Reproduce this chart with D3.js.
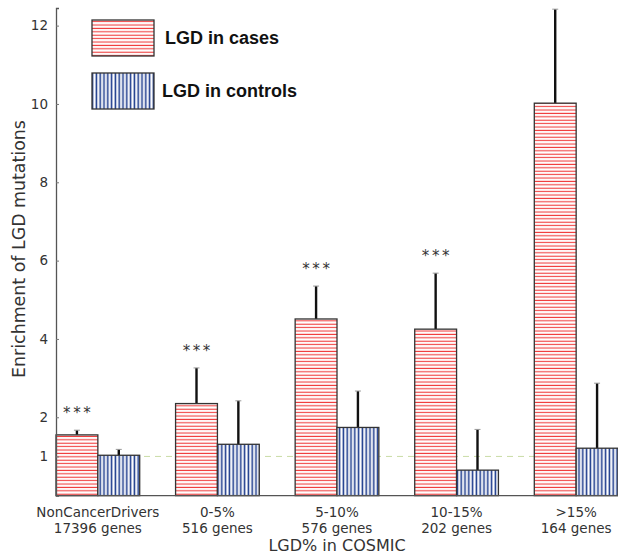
<!DOCTYPE html>
<html>
<head>
<meta charset="utf-8">
<script src="https://cdn.jsdelivr.net/npm/d3@7/dist/d3.min.js"></script>
<style>
  html, body { margin: 0; padding: 0; background: #fff; }
  svg { display: block; }
</style>
</head>
<body>
<div id="chart"></div>
<script>
// LGD enrichment in cases vs controls, by COSMIC LGD% bin
const categories = ['NonCancerDrivers', '0-5%', '5-10%', '10-15%', '>15%'];
const geneCounts = ['17396 genes', '516 genes', '576 genes', '202 genes', '164 genes'];
const casesValues = [1.55, 2.35, 4.51, 4.25, 10.02];
const casesErrors = [0.12, 0.91, 0.84, 1.43, 2.40];
const controlsValues = [1.03, 1.31, 1.74, 0.65, 1.21];
const controlsErrors = [0.15, 1.11, 0.93, 1.04, 1.66];
const significance = ['***', '***', '***', '***', ''];
const yTicks = [1, 2, 4, 6, 8, 10, 12];
const legendLabels = ['LGD in cases', 'LGD in controls'];

(function () {
  const W = 618, H = 555;
  const barW = 0.35;

  const svg = d3.select('#chart').append('svg')
    .attr('width', W)
    .attr('height', H)
    .attr('viewBox', `0 0 ${W} ${H}`);

  const defs = svg.append('defs');
  const redPat = defs.append('pattern')
    .attr('id', 'hatchRed')
    .attr('patternUnits', 'userSpaceOnUse')
    .attr('width', 8)
    .attr('height', 3.4);
  redPat.append('rect').attr('width', 8).attr('height', 3.4).attr('fill', '#fff');
  redPat.append('line')
    .attr('x1', 0).attr('x2', 8).attr('y1', 1.2).attr('y2', 1.2)
    .attr('stroke', '#f03a3a').attr('stroke-width', 1.1);

  const bluePat = defs.append('pattern')
    .attr('id', 'hatchBlue')
    .attr('patternUnits', 'userSpaceOnUse')
    .attr('width', 3.8)
    .attr('height', 8);
  bluePat.append('rect').attr('width', 3.8).attr('height', 8).attr('fill', '#fff');
  bluePat.append('line')
    .attr('x1', 1.4).attr('x2', 1.4).attr('y1', 0).attr('y2', 8)
    .attr('stroke', '#1c3b8c').attr('stroke-width', 1.6);

  const x = d3.scaleLinear().domain([-barW, categories.length - 1 + barW]).range([56, 618]);
  const y = d3.scaleLinear().domain([0, 12.45]).range([495.6, 8]);

  // reference line at 1
  svg.append('line')
    .attr('x1', x.range()[0]).attr('x2', x.range()[1])
    .attr('y1', y(1)).attr('y2', y(1))
    .attr('stroke', '#c9dca6')
    .attr('stroke-width', 1)
    .attr('stroke-dasharray', '6,5');

  const rows = categories.map((c, i) => ({
    i,
    cases: casesValues[i], casesErr: casesErrors[i],
    controls: controlsValues[i], controlsErr: controlsErrors[i],
    sig: significance[i]
  }));

  // error bars (upper only), drawn behind bars
  const errs = [];
  rows.forEach(d => {
    errs.push({ cx: x(d.i - barW / 2), v: d.cases, e: d.casesErr });
    errs.push({ cx: x(d.i + barW / 2), v: d.controls, e: d.controlsErr });
  });
  svg.selectAll('.err')
    .data(errs)
    .join('line')
    .attr('class', 'err')
    .attr('x1', d => d.cx).attr('x2', d => d.cx)
    .attr('y1', d => y(d.v)).attr('y2', d => y(d.v + d.e))
    .attr('stroke', '#111')
    .attr('stroke-width', 2.4);
  svg.selectAll('.cap')
    .data(errs)
    .join('line')
    .attr('class', 'cap')
    .attr('x1', d => d.cx - 3).attr('x2', d => d.cx + 3)
    .attr('y1', d => y(d.v + d.e)).attr('y2', d => y(d.v + d.e))
    .attr('stroke', '#999')
    .attr('stroke-width', 1);

  svg.selectAll('.bar-cases')
    .data(rows)
    .join('rect')
    .attr('class', 'bar-cases')
    .attr('x', d => x(d.i - barW))
    .attr('y', d => y(d.cases))
    .attr('width', x(barW) - x(0))
    .attr('height', d => y(0) - y(d.cases))
    .attr('fill', 'url(#hatchRed)')
    .attr('stroke', '#333')
    .attr('stroke-width', 1.3);

  svg.selectAll('.bar-controls')
    .data(rows)
    .join('rect')
    .attr('class', 'bar-controls')
    .attr('x', d => x(d.i))
    .attr('y', d => y(d.controls))
    .attr('width', x(barW) - x(0))
    .attr('height', d => y(0) - y(d.controls))
    .attr('fill', 'url(#hatchBlue)')
    .attr('stroke', '#333')
    .attr('stroke-width', 1.3);

  svg.selectAll('.sig')
    .data(rows.filter(d => d.sig))
    .join('text')
    .attr('class', 'sig')
    .attr('x', d => x(d.i - barW / 2) + 1.3)
    .attr('y', d => y(d.cases + d.casesErr) - 12)
    .attr('text-anchor', 'middle')
    .attr('font-family', 'DejaVu Sans, sans-serif')
    .attr('font-size', '15px')
    .attr('letter-spacing', '2.6px')
    .attr('fill', '#333')
    .text(d => d.sig);

  // axes
  const yAxis = svg.append('g')
    .attr('transform', `translate(${x.range()[0]},0)`)
    .call(d3.axisRight(y).tickValues(yTicks).tickSize(3).tickFormat(d3.format('d')));
  yAxis.select('.domain').attr('stroke', '#555').attr('stroke-width', 1.3);
  yAxis.selectAll('.tick line').attr('stroke', '#777');
  yAxis.selectAll('.tick text')
    .attr('x', -8)
    .attr('text-anchor', 'end')
    .attr('fill', '#333')
    .attr('font-family', 'DejaVu Sans, sans-serif')
    .attr('font-size', '13.5px');

  svg.append('line')
    .attr('x1', x.range()[0]).attr('x2', x.range()[1])
    .attr('y1', y(0)).attr('y2', y(0))
    .attr('stroke', '#555')
    .attr('stroke-width', 1.3);

  const xLabels = svg.selectAll('.xlab')
    .data(rows)
    .join('text')
    .attr('class', 'xlab')
    .attr('text-anchor', 'middle')
    .attr('font-family', 'DejaVu Sans, sans-serif')
    .attr('font-size', '13.5px')
    .attr('fill', '#333');
  xLabels.append('tspan')
    .attr('x', d => x(d.i)).attr('y', 517)
    .text(d => categories[d.i]);
  xLabels.append('tspan')
    .attr('x', d => x(d.i)).attr('y', 533)
    .text(d => geneCounts[d.i]);

  svg.append('text')
    .attr('x', (x.range()[0] + x.range()[1]) / 2)
    .attr('y', 551)
    .attr('text-anchor', 'middle')
    .attr('font-family', 'DejaVu Sans, sans-serif')
    .attr('font-size', '16px')
    .attr('fill', '#333')
    .text('LGD% in COSMIC');

  svg.append('text')
    .attr('transform', 'translate(25,249) rotate(-90)')
    .attr('text-anchor', 'middle')
    .attr('font-family', 'DejaVu Sans, sans-serif')
    .attr('font-size', '17.4px')
    .attr('fill', '#333')
    .text('Enrichment of LGD mutations');

  // legend
  const legend = svg.append('g');
  const legendFills = ['url(#hatchRed)', 'url(#hatchBlue)'];
  const legendTextX = [165, 162];
  legendLabels.forEach((label, k) => {
    const top = 20 + k * 53;
    legend.append('rect')
      .attr('x', 92).attr('y', top)
      .attr('width', 62).attr('height', 36)
      .attr('fill', legendFills[k])
      .attr('stroke', '#333')
      .attr('stroke-width', 1.3);
    legend.append('text')
      .attr('x', legendTextX[k]).attr('y', top + 18)
      .attr('dy', '0.35em')
      .attr('font-family', 'Liberation Sans, Arial, sans-serif')
      .attr('font-weight', 'bold')
      .attr('font-size', '18px')
      .attr('fill', '#111')
      .text(label);
  });
})();
</script>
</body>
</html>
